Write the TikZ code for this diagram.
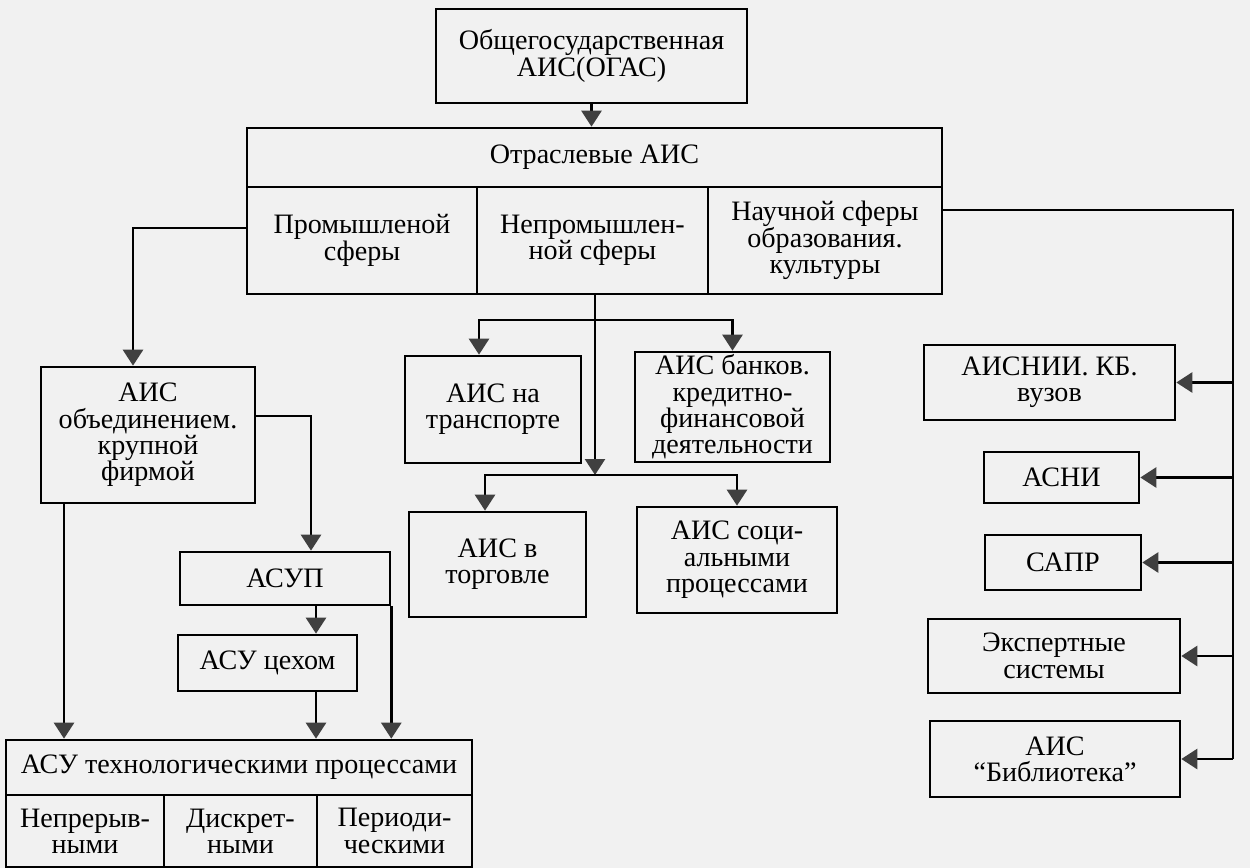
\documentclass[tikz,border=0pt]{standalone}
\usepackage{fontspec}
\setmainfont{Liberation Serif}
\usepackage{xcolor}
\usetikzlibrary{arrows.meta}
\definecolor{scan}{RGB}{241,241,241}

\begin{document}
\begin{tikzpicture}[x=0.02cm,y=-0.02cm,
    box/.style={draw,line width=1.5pt,align=center,inner sep=1pt,font=\fontsize{16}{15}\selectfont},
    arr/.style={line width=1.5pt,-{Triangle[length=0.32cm,width=0.4cm,color=black!75]}},
    conn/.style={line width=1.5pt}]
  \fill[scan] (0,0) rectangle (1250,868);
  \useasboundingbox (0,0) rectangle (1250,868);

  \node[box,minimum width=6.22cm,minimum height=1.88cm] (ogas) at (591.5,56) {Общегосударственная\\АИС(ОГАС)};
  \node[box,minimum width=13.9cm,minimum height=1.18cm] (otr) at (594.5,157.5) {Отраслевые АИС};
  \node[box,minimum width=4.6cm,minimum height=2.14cm] (prom) at (362,240.5) {Промышленой\\сферы};
  \node[box,minimum width=4.62cm,minimum height=2.14cm] (neprom) at (592.5,240.5) {Непромышлен-\\ной сферы};
  \node[box,minimum width=4.68cm,minimum height=2.14cm] (nauch) at (825,240.5) {Научной сферы\\образования.\\культуры};

  \node[box,minimum width=4.28cm,minimum height=2.72cm] (ob) at (148,435) {АИС\\объединением.\\крупной\\фирмой};
  \node[box,minimum width=3.52cm,minimum height=2.14cm] (trans) at (493,409.5) {АИС на\\транспорте};
  \node[box,minimum width=3.9cm,minimum height=2.2cm] (bank) at (732.5,407) {АИС банков.\\кредитно-\\финансовой\\деятельности};
  \node[box,minimum width=3.54cm,minimum height=2.1cm] (torg) at (497.5,564.5) {АИС в\\торговле};
  \node[box,minimum width=4cm,minimum height=2.12cm] (soc) at (737,560) {АИС соци-\\альными\\процессами};

  \node[box,minimum width=5.02cm,minimum height=1.5cm] (nii) at (1049.5,382.5) {АИСНИИ. КБ.\\вузов};
  \node[box,minimum width=3.1cm,minimum height=1.02cm] (asni) at (1061.5,477.5) {АСНИ};
  \node[box,minimum width=3.12cm,minimum height=1.1cm] (sapr) at (1063,562.5) {САПР};
  \node[box,minimum width=5.04cm,minimum height=1.48cm] (exp) at (1054,656) {Экспертные\\системы};
  \node[box,minimum width=5cm,minimum height=1.52cm] (bib) at (1055,759) {АИС\\“Библиотека”};

  \node[box,minimum width=4.2cm,minimum height=1.06cm] (asup) at (285,578.5) {АСУП};
  \node[box,minimum width=3.58cm,minimum height=1.12cm] (ceh) at (267.5,663) {АСУ цехом};
  \node[box,minimum width=9.32cm,minimum height=1.1cm] (tp) at (239,767.5) {АСУ технологическими процессами};
  \node[box,minimum width=3.16cm,minimum height=1.44cm] (tp1) at (85,831) {Непрерыв-\\ными};
  \node[box,minimum width=3.06cm,minimum height=1.44cm] (tp2) at (240.5,831) {Дискрет-\\ными};
  \node[box,minimum width=3.1cm,minimum height=1.44cm] (tp3) at (394.5,831) {Периоди-\\ческими};

  \coordinate (hubA) at (595,320);
  \coordinate (hubB) at (595,475);

  \draw[arr] (ogas.south) -- (ogas.south |- otr.north);
  \draw[arr] (prom.west |- 0,228) -| (133,0 |- ob.north);
  \draw[conn] (nauch.east |- 0,210) -| (1233,759);
  \foreach \n in {nii,asni,sapr,exp,bib}
    \draw[arr] (1233,0 |- \n.east) -- (\n.east);

  \draw[arr] (neprom.south -| hubA) -- (hubB);
  \draw[arr] (hubA) -| (479,0 |- trans.north);
  \draw[arr] (hubA) -| (bank.north);
  \draw[arr] (hubB) -| (485,0 |- torg.north);
  \draw[arr] (hubB) -| (soc.north);

  \draw[arr] (ob.east |- 0,416) -| (311,0 |- asup.north);
  \draw[arr] (64,0 |- ob.south) -- (64,0 |- tp.north);
  \draw[arr] (316,0 |- asup.south) -- (316,0 |- ceh.north);
  \draw[arr] (316,0 |- ceh.south) -- (316,0 |- tp.north);
  \draw[arr] (asup.south east) -- (asup.south east |- tp.north);
\end{tikzpicture}
\end{document}
